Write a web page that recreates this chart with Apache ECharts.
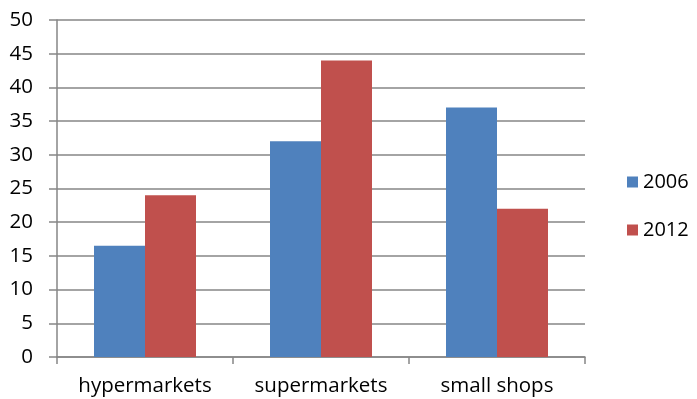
<!DOCTYPE html>
<html>
<head>
<meta charset="utf-8">
<script src="https://cdn.jsdelivr.net/npm/echarts@6/dist/echarts.min.js"></script>
<style>
  html, body { margin: 0; padding: 0; background: #fff; }
  #chart { width: 697px; height: 399px; }
</style>
</head>
<body>
<div id="chart"></div>
<script>
var categories = ["hypermarkets", "supermarkets", "small shops"];
var values2006 = [16.5, 32, 37];
var values2012 = [24, 44, 22];
var yTicks = [0, 5, 10, 15, 20, 25, 30, 35, 40, 45, 50];

var font = "Open Sans";
var gray = "#868686";

var chart = echarts.init(document.getElementById("chart"));
var option = {
  animation: false,
  textStyle: { fontFamily: font },
  grid: { left: 57, right: 112, top: 20, bottom: 42 },
  legend: {
    orient: "vertical",
    left: 627,
    top: 172,
    padding: 0,
    itemWidth: 11,
    itemHeight: 11,
    itemGap: 28,
    icon: "rect",
    textStyle: { fontFamily: font, fontSize: 20, color: "#000" },
    data: ["2006", "2012"]
  },
  xAxis: {
    type: "category",
    data: categories,
    axisLine: { lineStyle: { color: gray, width: 1.5 } },
    axisTick: { show: true, length: 7, lineStyle: { color: gray, width: 1.5 } },
    axisLabel: { color: "#000", fontSize: 20.5, margin: 19 }
  },
  yAxis: {
    type: "value",
    min: yTicks[0],
    max: yTicks[yTicks.length - 1],
    interval: 5,
    axisLine: { show: true, lineStyle: { color: gray, width: 1.5 } },
    axisTick: { show: true, length: 8, lineStyle: { color: gray, width: 1.5 } },
    splitLine: { lineStyle: { color: gray, width: 1.5 } },
    axisLabel: { color: "#000", fontSize: 20.5, margin: 24 }
  },
  series: [
    {
      name: "2006",
      type: "bar",
      data: values2006,
      barWidth: 51,
      barGap: "0%",
      itemStyle: { color: "#4F81BD" }
    },
    {
      name: "2012",
      type: "bar",
      data: values2012,
      barWidth: 51,
      barGap: "0%",
      itemStyle: { color: "#C0504D" }
    }
  ]
};
chart.setOption(option);
</script>
</body>
</html>
